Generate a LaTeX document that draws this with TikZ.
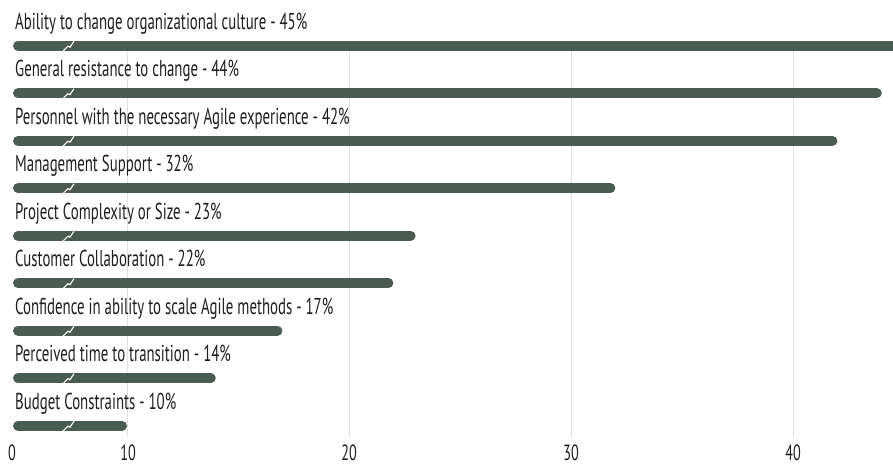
\documentclass[tikz,border=0pt]{standalone}
\usepackage{fontspec}
\setmainfont{PT Sans}[FakeStretch=0.645]
\definecolor{barcol}{RGB}{74,92,82}
\definecolor{gridcol}{RGB}{224,224,224}
\definecolor{txtcol}{RGB}{30,30,30}
\begin{document}
\begin{tikzpicture}[x=1pt,y=-1pt,
  bar/.style={draw=barcol,line width=10pt,line cap=round},
  gridline/.style={draw=gridcol,line width=1pt},
  lbl/.style={anchor=base west,inner sep=0pt,text=txtcol,font=\fontsize{23}{25}\selectfont},
  tick/.style={anchor=base,inner sep=0pt,text=txtcol,font=\fontsize{22}{24}\selectfont},
  brk/.style={draw=white,line width=1.1pt,line join=miter}]
\useasboundingbox (0,0) rectangle (893,467);
\begin{scope}
\clip (0,0) rectangle (893,467);
% grid
\foreach \gx/\nm in {127/g10,349/g20,571/g30,793/g40}{
  \coordinate (\nm t) at (\gx,50);
  \coordinate (\nm b) at (\gx,437);
  \draw[gridline] (\nm t) -- (\nm b);
}
% bars
\foreach \i/\txt/\v in {0/{Ability to change organizational culture - 45\%}/45,
  1/{General resistance to change - 44\%}/44,
  2/{Personnel with the necessary Agile experience - 42\%}/42,
  3/{Management Support - 32\%}/32,
  4/{Project Complexity or Size - 23\%}/23,
  5/{Customer Collaboration - 22\%}/22,
  6/{Confidence in ability to scale Agile methods - 17\%}/17,
  7/{Perceived time to transition - 14\%}/14,
  8/{Budget Constraints - 10\%}/10}{
  \pgfmathsetmacro{\cy}{45.7+47.5*\i}
  \pgfmathsetmacro{\ex}{127+(\v-10)*22.2-5}
  \coordinate (s\i) at (18,\cy);
  \coordinate (e\i) at (\ex,\cy);
  \draw[bar] (s\i) -- (e\i);
  \node[lbl] (l\i) at (15,\cy-16.7) {\txt};
  \coordinate (z\i) at (63,\cy+5.5);
  \draw[brk] (z\i) -- ++(5,-5) -- ++(2,1) -- ++(4,-6);
}
\end{scope}
% ticks
\node[tick] (t0) at (12,460) {0};
\node[tick] (t10) at (128,460) {10};
\node[tick] (t20) at (349,460) {20};
\node[tick] (t30) at (571,460) {30};
\node[tick] (t40) at (793,460) {40};
\end{tikzpicture}
\end{document}
